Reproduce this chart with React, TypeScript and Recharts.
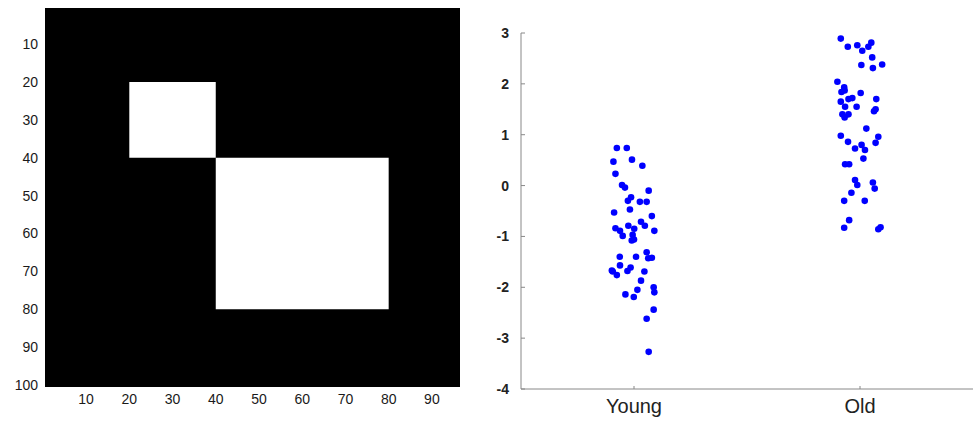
import {
  ComposedChart,
  ReferenceArea,
  Scatter,
  ScatterChart,
  XAxis,
  YAxis,
} from "recharts";

// left panel: binary image, 96 columns x 100 rows, white blocks listed below
const IMAGE_COLS = 96;
const IMAGE_ROWS = 100;
const WHITE_BLOCKS = [
  { x1: 20, x2: 40, y1: 20, y2: 40 },
  { x1: 40, x2: 80, y1: 40, y2: 80 },
];
const IMG_X_TICKS = [10, 20, 30, 40, 50, 60, 70, 80, 90];
const IMG_Y_TICKS = [10, 20, 30, 40, 50, 60, 70, 80, 90, 100];

// right panel: jittered strip plot
const GROUPS = ["Young", "Old"];
const VALUE_TICKS = [-4, -3, -2, -1, 0, 1, 2, 3];

const YOUNG_X = [
  0.924, 0.968, 0.909, 0.991, 1.037, 0.918, 0.947, 0.96, 1.065, 0.987, 0.973, 1.026,
  1.056, 0.982, 0.912, 1.079, 1.031, 1.048, 0.975, 0.918, 0.938, 1.001, 1.09, 0.95,
  0.994, 1.0, 0.99, 0.937, 1.009, 1.056, 1.063, 1.079, 0.938, 0.985, 0.971, 1.046,
  0.906, 0.924, 0.902, 1.031, 1.087, 1.09, 0.962, 0.999, 1.015, 1.087, 1.056, 1.065,
];
const YOUNG_Y = [
  0.74, 0.74, 0.47, 0.51, 0.39, 0.23, 0.01, -0.04, -0.1, -0.23, -0.3, -0.32,
  -0.32, -0.47, -0.53, -0.6, -0.71, -0.79, -0.79, -0.84, -0.89, -0.85, -0.89, -0.99,
  -0.97, -1.06, -1.08, -1.4, -1.4, -1.31, -1.43, -1.42, -1.57, -1.61, -1.68, -1.69,
  -1.69, -1.76, -1.67, -1.87, -2.0, -2.1, -2.14, -2.19, -2.05, -2.44, -2.62, -3.27,
];

const OLD_X = [
  1.915, 1.946, 1.988, 2.01, 2.037, 2.05, 2.054, 2.006, 2.057, 2.098, 1.9, 1.93,
  1.918, 1.932, 2.003, 1.966, 1.949, 1.915, 1.934, 1.985, 2.072, 2.069, 2.062, 1.922,
  1.949, 1.932, 2.028, 1.915, 2.081, 1.947, 2.069, 1.978, 2.007, 2.022, 2.015, 1.934,
  1.952, 1.978, 1.988, 2.057, 2.065, 1.962, 1.93, 2.021, 1.952, 1.93, 2.081, 2.091,
];
const OLD_Y = [
  2.89, 2.73, 2.76, 2.65, 2.73, 2.81, 2.52, 2.37, 2.31, 2.38, 2.04, 1.93,
  1.84, 1.87, 1.82, 1.72, 1.7, 1.65, 1.55, 1.55, 1.7, 1.5, 1.46, 1.4,
  1.4, 1.34, 1.12, 0.98, 0.96, 0.86, 0.84, 0.73, 0.8, 0.7, 0.53, 0.42,
  0.42, 0.11, 0.01, 0.06, -0.06, -0.14, -0.3, -0.3, -0.68, -0.83, -0.86, -0.82,
];

const young = YOUNG_Y.map((v, i) => ({ x: YOUNG_X[i], y: v }));
const old = OLD_Y.map((v, i) => ({ x: OLD_X[i], y: v }));

const FONT = "'Liberation Sans', Arial, sans-serif";
const dot = (p: any) => <circle cx={p.cx} cy={p.cy} r={3.3} fill="#0000ff" />;

export default function App() {
  return (
    <div style={{ position: "absolute", left: 0, top: 0, width: 976, height: 421, background: "#fff" }}>
      <div style={{ position: "absolute", left: 0, top: 0 }}>
        <ComposedChart width={470} height={421} margin={{ top: 8, right: 10, bottom: 4, left: 0 }}>
          <XAxis
            type="number"
            dataKey="x"
            domain={[0.5, IMAGE_COLS + 0.5]}
            ticks={IMG_X_TICKS}
            axisLine={false}
            tickLine={false}
            tickSize={6}
            tickMargin={1}
            height={30}
            tick={{ fill: "#1a1a1a", fontSize: 14, fontFamily: FONT }}
            allowDataOverflow
          />
          <YAxis
            type="number"
            dataKey="y"
            reversed
            domain={[0.5, IMAGE_ROWS + 0.5]}
            ticks={IMG_Y_TICKS}
            axisLine={false}
            tickLine={false}
            tickSize={6}
            tickMargin={1}
            width={45}
            tick={{ fill: "#1a1a1a", fontSize: 14, fontFamily: FONT }}
            allowDataOverflow
          />
          <ReferenceArea
            x1={0.5}
            x2={IMAGE_COLS + 0.5}
            y1={0.5}
            y2={IMAGE_ROWS + 0.5}
            fill="#000"
            fillOpacity={1}
            stroke="none"
          />
          {WHITE_BLOCKS.map((b, i) => (
            <ReferenceArea
              key={i}
              x1={b.x1}
              x2={b.x2}
              y1={b.y1}
              y2={b.y2}
              fill="#fff"
              fillOpacity={1}
              stroke="none"
            />
          ))}
        </ComposedChart>
      </div>
      <div style={{ position: "absolute", left: 480, top: 0 }}>
        <ScatterChart width={496} height={421} margin={{ top: 33, right: 3, bottom: 2, left: 0 }}>
          <XAxis
            type="number"
            dataKey="x"
            domain={[0.5, 2.5]}
            ticks={[1, 2]}
            tickFormatter={(v) => GROUPS[v - 1]}
            stroke="#888"
            tickSize={-3}
            tickMargin={13}
            height={30}
            tick={{ fill: "#222", fontSize: 20, fontFamily: FONT }}
            allowDataOverflow
          />
          <YAxis
            type="number"
            dataKey="y"
            domain={[-4, 3]}
            ticks={VALUE_TICKS}
            stroke="#888"
            tickSize={-4}
            tickMargin={16}
            width={41}
            tick={{ fill: "#222", fontSize: 14, fontWeight: "bold", fontFamily: FONT }}
            allowDataOverflow
          />
          <Scatter data={young} shape={dot} isAnimationActive={false} />
          <Scatter data={old} shape={dot} isAnimationActive={false} />
        </ScatterChart>
      </div>
    </div>
  );
}
